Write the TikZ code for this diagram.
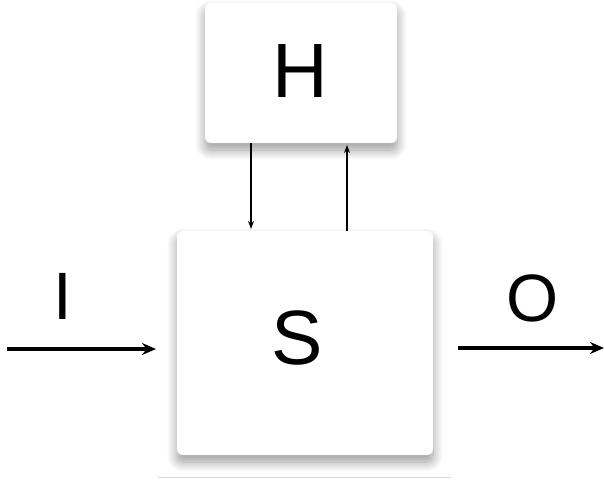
\documentclass[tikz,border=0pt]{standalone}
\usepackage{fontspec}
\setmainfont{Liberation Sans}
\usetikzlibrary{shadows.blur,arrows.meta}
\begin{document}
\begin{tikzpicture}[x=1pt,y=-1pt,
  boxstyle/.style={fill=white,draw=none,rounded corners=6pt,
    blur shadow={shadow xshift=0pt,shadow yshift=-7pt,shadow blur radius=10pt,shadow blur steps=12,shadow opacity=40}},
  thin arrow/.style={line width=1.4pt,-{Stealth[length=8pt,width=6pt]}},
  thick arrow/.style={line width=3.4pt,-{Stealth[length=14pt,width=12pt]}},
  lbl/.style={font=\fontsize{67}{67}\selectfont,inner sep=0pt}]
\useasboundingbox (0,0) rectangle (604,480);
% boxes
\node[boxstyle,minimum width=192pt,minimum height=140pt] (H) at (301,73) {};
\node[boxstyle,minimum width=256pt,minimum height=224pt] (S) at (305,343) {};
\node[font=\fontsize{77}{77}\selectfont,inner sep=0pt] (Ht) at (300,71) {H};
\node[font=\fontsize{77}{77}\selectfont,inner sep=0pt] (St) at (297,338) {S};
% vertical arrows
\coordinate (h1) at (251,143);
\coordinate (s1) at (251,229);
\coordinate (s2) at (347,231);
\coordinate (h2) at (347,145);
\draw[thin arrow] (h1) -- (s1);
\draw[thin arrow] (s2) -- (h2);
% input/output
\coordinate (in0) at (7,349);
\coordinate (in1) at (156,349);
\draw[thick arrow] (in0) -- (in1);
\coordinate (out0) at (458,348);
\coordinate (out1) at (604,348);
\draw[thick arrow] (out0) -- (out1);
\node[lbl] (I) at (63,296) {I};
\node[lbl] (O) at (533,298) {O};
% bottom line
\coordinate (b0) at (158,477.5);
\coordinate (b1) at (451,477.5);
\draw[line width=1pt,black!15] (b0) -- (b1);
\end{tikzpicture}
\end{document}
